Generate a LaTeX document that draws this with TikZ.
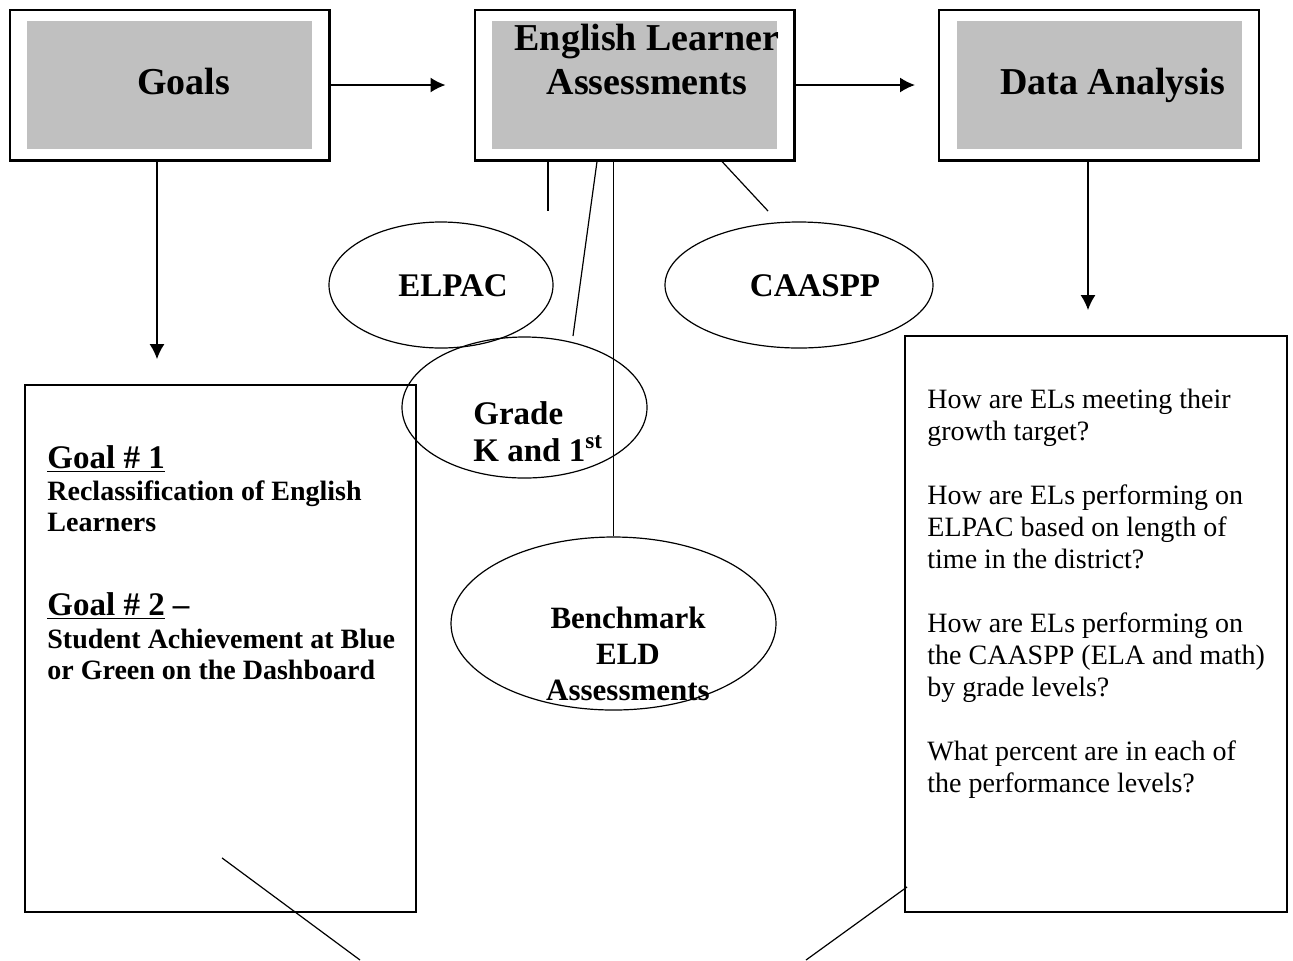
\documentclass[tikz,border=0pt]{standalone}
\usepackage{fontspec}
\setmainfont{Liberation Serif}
\usetikzlibrary{shapes.geometric,arrows.meta,fit,calc,positioning}
\definecolor{panelgray}{RGB}{192,192,192}
\tikzset{
  >={Latex[length=7.5pt,width=7.5pt]},
  graypanel/.style={fill=panelgray,minimum width=142.5pt,minimum height=64pt,inner sep=0pt},
  outerframe/.style={draw,line width=1.1pt,inner xsep=8.5pt,inner ysep=5.5pt},
  headline/.style={font=\fontsize{19}{22}\selectfont\bfseries,align=center,anchor=base,inner sep=0pt},
  bubble/.style={draw,ellipse,line width=0.6pt,inner sep=0pt},
  bubbletext/.style={font=\fontsize{16.5}{18.5}\selectfont\bfseries,inner sep=0pt},
  listbox/.style={draw,line width=0.9pt,inner sep=0pt},
  goalhead/.style={font=\fontsize{16.5}{18}\selectfont\bfseries,anchor=base west,inner sep=0pt},
  goalbody/.style={font=\fontsize{14}{15.5}\selectfont\bfseries,align=left,anchor=base west,inner sep=0pt},
  link/.style={line width=0.6pt},
  flow/.style={line width=0.8pt,->},
}
\begin{document}
\begin{tikzpicture}[x=0.5pt,y=-0.5pt]
  \useasboundingbox (0,0) rectangle (1293,960);

  % Top row of headings
  \node[graypanel] (goals) at (169.5,85) {};
  \node[outerframe,fit=(goals)] (goalsframe) {};
  \node[headline] (goalstitle) at (183.5,94) {Goals};

  \node[graypanel] (el) at (634.5,85) {};
  \node[outerframe,fit=(el)] (elframe) {};
  \node[headline] (eltitle) at (647,94) {English Learner\\Assessments};

  \node[graypanel] (data) at (1099,85) {};
  \node[outerframe,fit=(data)] (dataframe) {};
  \node[headline] (datatitle) at (1112.5,94) {Data Analysis};

  \draw[flow,shorten >=14pt] (goalsframe) -- (elframe);
  \draw[flow,shorten >=11.5pt] (elframe) -- (dataframe);

  % Assessment bubbles
  \node[bubble,minimum width=112pt,minimum height=63pt] (elpac) at (441,285) {};
  \node[bubble,minimum width=134pt,minimum height=63pt] (caaspp) at (799,285) {};
  \node[bubble,minimum width=122.5pt,minimum height=70.5pt] (grade) at (524.5,407.5) {};
  \node[bubble,minimum width=162.5pt,minimum height=86.5pt] (bench) at (613.5,623.5) {};

  \node[bubbletext,anchor=base] (elpaclabel) at (453,296) {ELPAC};
  \node[bubbletext,anchor=base] (caasspplabel) at (815,296) {CAASPP};
  \node[bubbletext,anchor=base west,align=left] (gradelabel) at (473,461) {Grade\\K and 1\textsuperscript{st}};
  \node[bubbletext,anchor=base,align=center,font=\fontsize{15.5}{18}\selectfont\bfseries] (benchlabel) at (628,700) {Benchmark\\ELD\\Assessments};

  \coordinate (elpacstub) at (548,211);
  \coordinate (gradestub) at (573,336);
  \coordinate (caasppstub) at (768,211);
  \draw[link] (elframe.south -| elpacstub) -- (elpacstub);
  \draw[link] ($(elframe.south)+(-37.5,0)$) -- (gradestub);
  \draw[link] (elframe.south -| bench.north) -- (bench.north);
  \draw[link] ($(elframe.south)+(87.5,0)$) -- (caasppstub);

  % Goals box
  \node[listbox,minimum width=195.5pt,minimum height=263.5pt] (goalbox) at (220.5,648.5) {};
  \draw[flow,shorten >=12.5pt] ([xshift=-6.25pt]goalsframe.south) -- ([xshift=-6.25pt]goalsframe.south |- goalbox.north);
  \node[goalhead] (goalone) at (47,468) {\underline{Goal \# 1}};
  \node[goalbody] (goalonetext) at (47,531) {Reclassification of English\\Learners};
  \node[goalhead] (goaltwo) at (47,615) {\underline{Goal \# 2} --};
  \node[goalbody] (goaltwotext) at (47,679) {Student Achievement at Blue\\or Green on the Dashboard};

  % Data questions box
  \node[listbox,minimum width=191pt,minimum height=288pt] (databox) at (1096,624) {};
  \draw[flow,shorten >=12.5pt] ([xshift=-5.5pt]dataframe.south) -- ([xshift=-5.5pt]dataframe.south |- databox.north);
  \node[anchor=base west,align=left,inner sep=0pt,font=\fontsize{14}{16}\selectfont] (questions) at (927,792)
    {How are ELs meeting their\\growth target?\\[16pt]How are ELs performing on\\ELPAC based on length of\\time in the district?\\[16pt]How are ELs performing on\\the CAASPP (ELA and math)\\by grade levels?\\[16pt]What percent are in each of\\the performance levels?};

  % Lines running off the bottom
  \coordinate (leftfoot) at (360,960);
  \coordinate (rightfoot) at (806,960);
  \draw[link] ($(goalbox.south)+(1.5,-55)$) -- (leftfoot);
  \draw[link] ($(databox.south west)+(3,-26)$) -- (rightfoot);
\end{tikzpicture}
\end{document}
